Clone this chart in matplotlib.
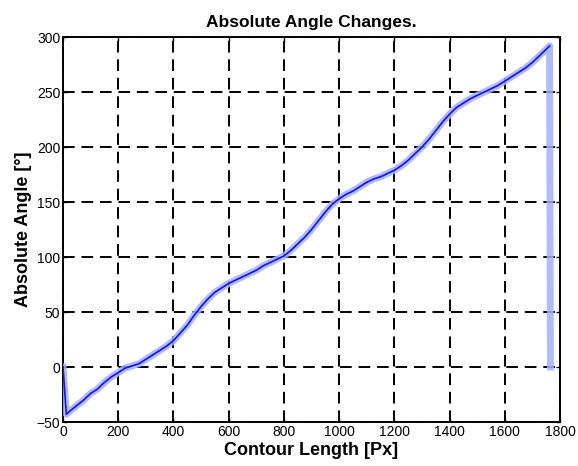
import matplotlib.pyplot as plt
import numpy as np

# ======================= DATA ==========================
contour_len = [0, 12, 25, 50, 75, 100, 125, 150, 175, 200, 225, 250, 275, 300,
               325, 350, 375, 400, 425, 450, 475, 500, 525, 550, 575, 600, 625,
               650, 675, 700, 725, 750, 775, 800, 825, 850, 875, 900, 925, 950,
               975, 1000, 1025, 1050, 1075, 1100, 1125, 1150, 1175, 1200, 1225,
               1250, 1275, 1300, 1325, 1350, 1375, 1400, 1425, 1450, 1475, 1500,
               1525, 1550, 1575, 1600, 1625, 1650, 1675, 1700, 1725, 1750, 1762,
               1765]
abs_angle = [0, -43, -40, -35, -30, -24, -20, -14, -9, -5, -1, 1, 3, 7,
             11, 15, 19, 24, 31, 38, 47, 55, 62, 68, 72, 76, 79,
             82, 85, 88, 92, 95, 98, 101, 106, 112, 118, 125, 133, 141,
             148, 153, 157, 160, 164, 168, 171, 173, 176, 179, 183,
             188, 194, 200, 207, 215, 223, 230, 236, 240, 244, 247,
             250, 253, 256, 260, 264, 268, 272, 277, 283, 289, 292,
             0]
x_ticks = [0, 200, 400, 600, 800, 1000, 1200, 1400, 1600, 1800]
y_ticks = [-50, 0, 50, 100, 150, 200, 250, 300]
# =======================================================

plt.rcParams['font.family'] = ['Liberation Sans', 'DejaVu Sans']

fig = plt.figure(figsize=(5.78, 4.66), dpi=100)
ax = fig.add_axes([0.109, 0.0944, 0.860, 0.826])

# light halo to mimic the noisy trace, then the trace itself
ax.plot(contour_len, abs_angle, color='#a4b0ff', linewidth=5.0, alpha=0.85,
        solid_joinstyle='round', zorder=3)
ax.plot(contour_len[:-1], abs_angle[:-1], color='#1010ff', linewidth=1.2, zorder=4)

ax.set_xlim(0, 1800)
ax.set_ylim(-50, 300)
ax.set_xticks(x_ticks)
ax.set_yticks(y_ticks)
ax.tick_params(direction='in', length=3, width=1, labelsize=10, pad=2,
               top=True, right=True)

ax.grid(True, color='black', linestyle=(0, (6, 3.5)), linewidth=1.4)
for s in ax.spines.values():
    s.set_linewidth(1.4)

ax.set_title('Absolute Angle Changes.', fontsize=12.5, fontweight='bold', pad=7)
ax.set_xlabel('Contour Length [Px]', fontsize=13, fontweight='bold', labelpad=2)
ax.set_ylabel('Absolute Angle [\u00b0]', fontsize=13, fontweight='bold', labelpad=3)

plt.savefig('out.png', dpi=100)
